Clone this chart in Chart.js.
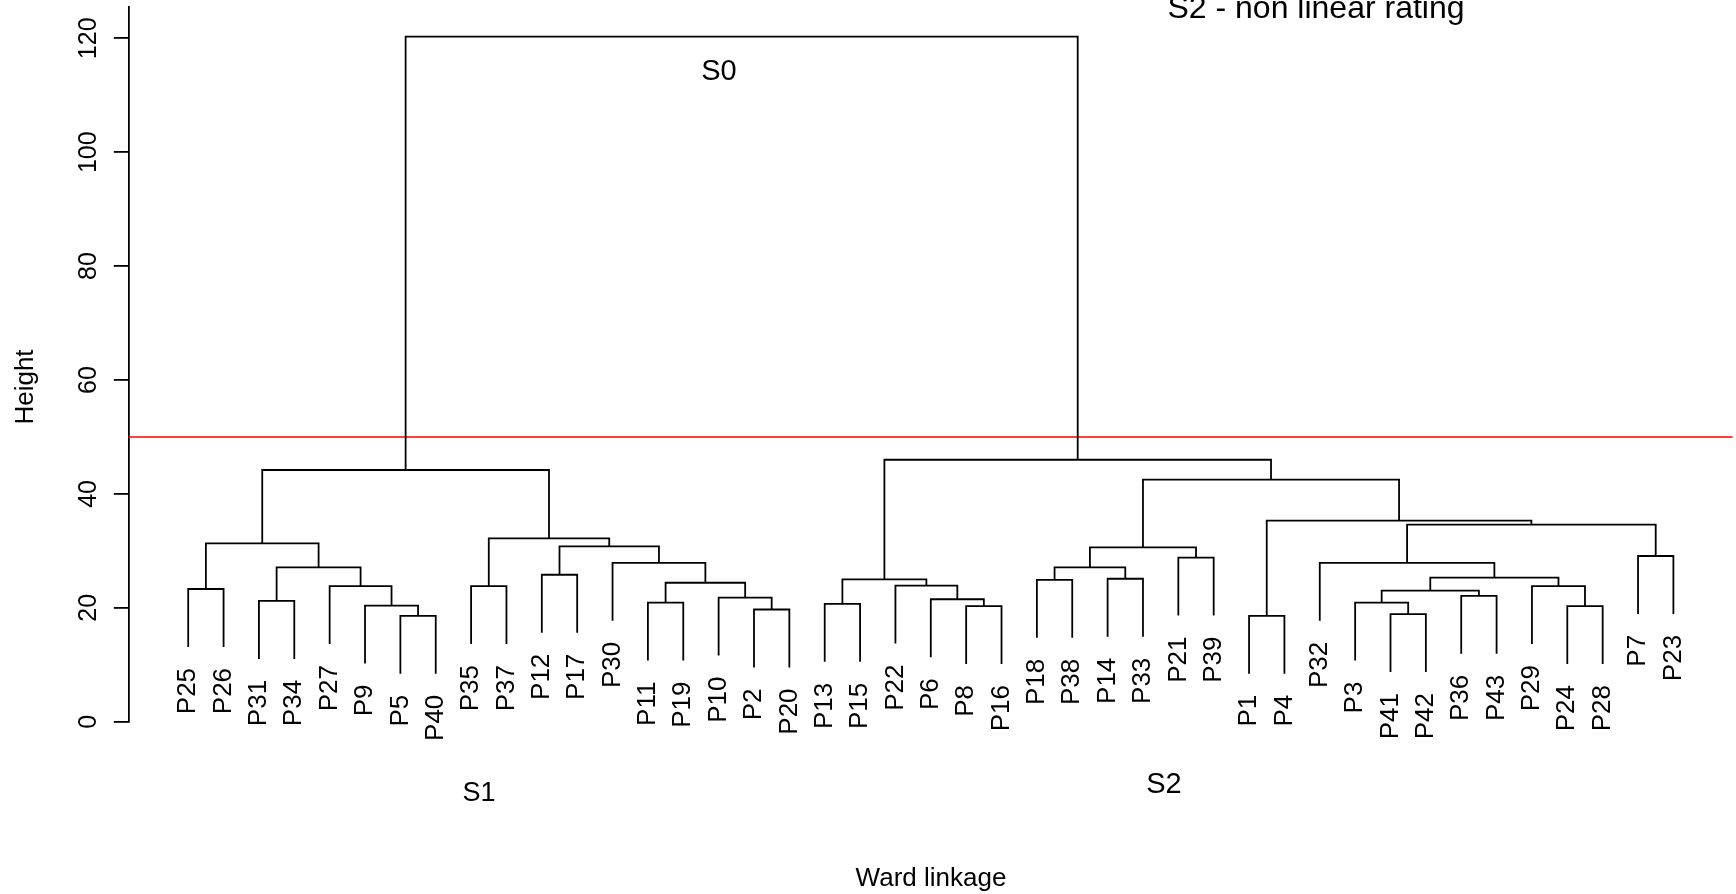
<!DOCTYPE html>
<html>
<head>
<meta charset="utf-8">
<style>
  html, body { margin: 0; padding: 0; background: #fff; }
</style>
<script src="https://cdn.jsdelivr.net/npm/chart.js@4"></script>
</head>
<body>
<canvas id="chart" width="1736" height="894"></canvas>
<script>
// leaves in plotting order (left to right)
const leafLabels = [
  "P25", "P26", "P31", "P34", "P27", "P9", "P5", "P40", "P35", "P37", "P12",
  "P17", "P30", "P11", "P19", "P10", "P2", "P20", "P13", "P15", "P22", "P6",
  "P8", "P16", "P18", "P38", "P14", "P33", "P21", "P39", "P1", "P4", "P32",
  "P3", "P41", "P42", "P36", "P43", "P29", "P24", "P28", "P7", "P23"
]

// hclust-like merge table: negative = leaf position, positive = earlier merge row
const mergeLeft = [
  -1, -3, -7, -6, -5, 2, 1, -9, -11, -14, -17, -16, 10, -13, 9, 8, 7,
  -19, -23, -22, -21, 18, -25, -27, 23, -29, 25, -31, -35, -34, -37, 30,
  -40, -39, 32, -33, -42, 36, 28, 27, 22, 17
]
const mergeRight = [
  -2, -4, -8, 3, 4, 5, 6, -10, -12, -15, -18, 11, 12, 13, 14, 15, 16,
  -20, -24, 19, 20, 21, -26, -28, 24, -30, 26, -32, -36, 29, -38, 31,
  -41, 33, 34, 35, -43, 37, 38, 39, 40, 41
]
const mergeHeights = [
  23.3, 21.2, 18.6, 20.4, 23.8, 27.1, 31.3, 23.8, 25.8, 20.9, 19.7, 21.8,
  24.4, 27.9, 30.8, 32.2, 44.2, 20.7, 20.3, 21.5, 23.9, 25.0, 24.9, 25.1,
  27.1, 28.8, 30.6, 18.6, 18.9, 20.9, 22.1, 23.0, 20.3, 23.8, 25.3, 27.9,
  29.1, 34.6, 35.3, 42.5, 46.0, 120.3
]

const yTicks = [0, 20, 40, 60, 80, 100, 120]
const cutHeight = 50

const FONT = '"Liberation Sans", Arial, sans-serif'

// leaves hang below their parent by 10% of the height range (as in plot.hclust)
const hang = 0.1 * (Math.max(...mergeHeights) - Math.min(...mergeHeights))

const nodeX = []
const leafEnds = []
const treeDatasets = mergeHeights.map((h, i) => {
  const l = mergeLeft[i]
  const r = mergeRight[i]
  const xl = l < 0 ? -l : nodeX[l - 1]
  const xr = r < 0 ? -r : nodeX[r - 1]
  const yl = l < 0 ? h - hang : mergeHeights[l - 1]
  const yr = r < 0 ? h - hang : mergeHeights[r - 1]
  if (l < 0) leafEnds[-l - 1] = yl
  if (r < 0) leafEnds[-r - 1] = yr
  nodeX.push((xl + xr) / 2)
  return {
    data: [{ x: xl, y: yl }, { x: xl, y: h }, { x: xr, y: h }, { x: xr, y: yr }],
    showLine: true,
    borderColor: "#000",
    borderWidth: 1.8,
    pointRadius: 0,
    tension: 0,
    order: 0
  }
})

const xMin = 1 - 0.04 * (leafLabels.length - 1)
const xMax = leafLabels.length + 0.04 * (leafLabels.length - 1)

const cutLine = {
  data: [{ x: xMin, y: cutHeight }, { x: xMax, y: cutHeight }],
  showLine: true,
  borderColor: "#ff0000",
  borderWidth: 1.6,
  pointRadius: 0,
  order: 1
}

const textPlugin = {
  id: "dendroText",
  afterDraw(chart) {
    const { ctx, scales: { x, y } } = chart
    ctx.save()
    ctx.fillStyle = "#000"

    // leaf labels, rotated
    ctx.font = "26px " + FONT
    leafLabels.forEach((label, i) => {
      ctx.save()
      ctx.translate(x.getPixelForValue(i + 1), y.getPixelForValue(leafEnds[i]) + 21)
      ctx.rotate(-Math.PI / 2)
      ctx.textAlign = "right"
      ctx.textBaseline = "middle"
      ctx.fillText(label, 0, 0)
      ctx.restore()
    })

    // y tick labels, parallel to the axis
    ctx.font = "25px " + FONT
    y.ticks.forEach(t => {
      ctx.save()
      ctx.translate(96, y.getPixelForValue(t.value))
      ctx.rotate(-Math.PI / 2)
      ctx.textAlign = "center"
      ctx.textBaseline = "alphabetic"
      ctx.fillText(String(t.value), 0, 0)
      ctx.restore()
    })

    // y axis title
    ctx.font = "26px " + FONT
    ctx.save()
    ctx.translate(33, 387)
    ctx.rotate(-Math.PI / 2)
    ctx.textAlign = "center"
    ctx.textBaseline = "alphabetic"
    ctx.fillText("Height", 0, 0)
    ctx.restore()

    ctx.textAlign = "center"
    ctx.textBaseline = "alphabetic"
    ctx.fillText("Ward linkage", 931, 886)

    ctx.font = "32px " + FONT
    ctx.fillText("S2 - non linear rating", 1316, 18)

    ctx.font = "29px " + FONT
    ctx.fillText("S0", 719, 80)
    ctx.fillText("S2", 1164, 793)
    ctx.font = "27px " + FONT
    ctx.fillText("S1", 479, 801)

    ctx.restore()
  }
}

new Chart(document.getElementById("chart"), {
  type: "scatter",
  data: { datasets: [...treeDatasets, cutLine] },
  options: {
    responsive: false,
    animation: false,
    devicePixelRatio: 1,
    layout: { padding: { top: 7, bottom: 172.3, left: 0, right: 3.2 } },
    plugins: { legend: { display: false }, tooltip: { enabled: false } },
    scales: {
      x: { type: "linear", min: xMin, max: xMax, display: false },
      y: {
        type: "linear",
        min: 0,
        max: 125.5,
        afterBuildTicks: scale => { scale.ticks = yTicks.map(v => ({ value: v })) },
        afterFit: scale => { scale.width = 128.8 },
        ticks: { display: false },
        grid: { drawOnChartArea: false, drawTicks: true, tickLength: 15, color: "#000", lineWidth: 1.8 },
        border: { display: true, color: "#000", width: 1.8 }
      }
    }
  },
  plugins: [textPlugin]
})
</script>
</body>
</html>
